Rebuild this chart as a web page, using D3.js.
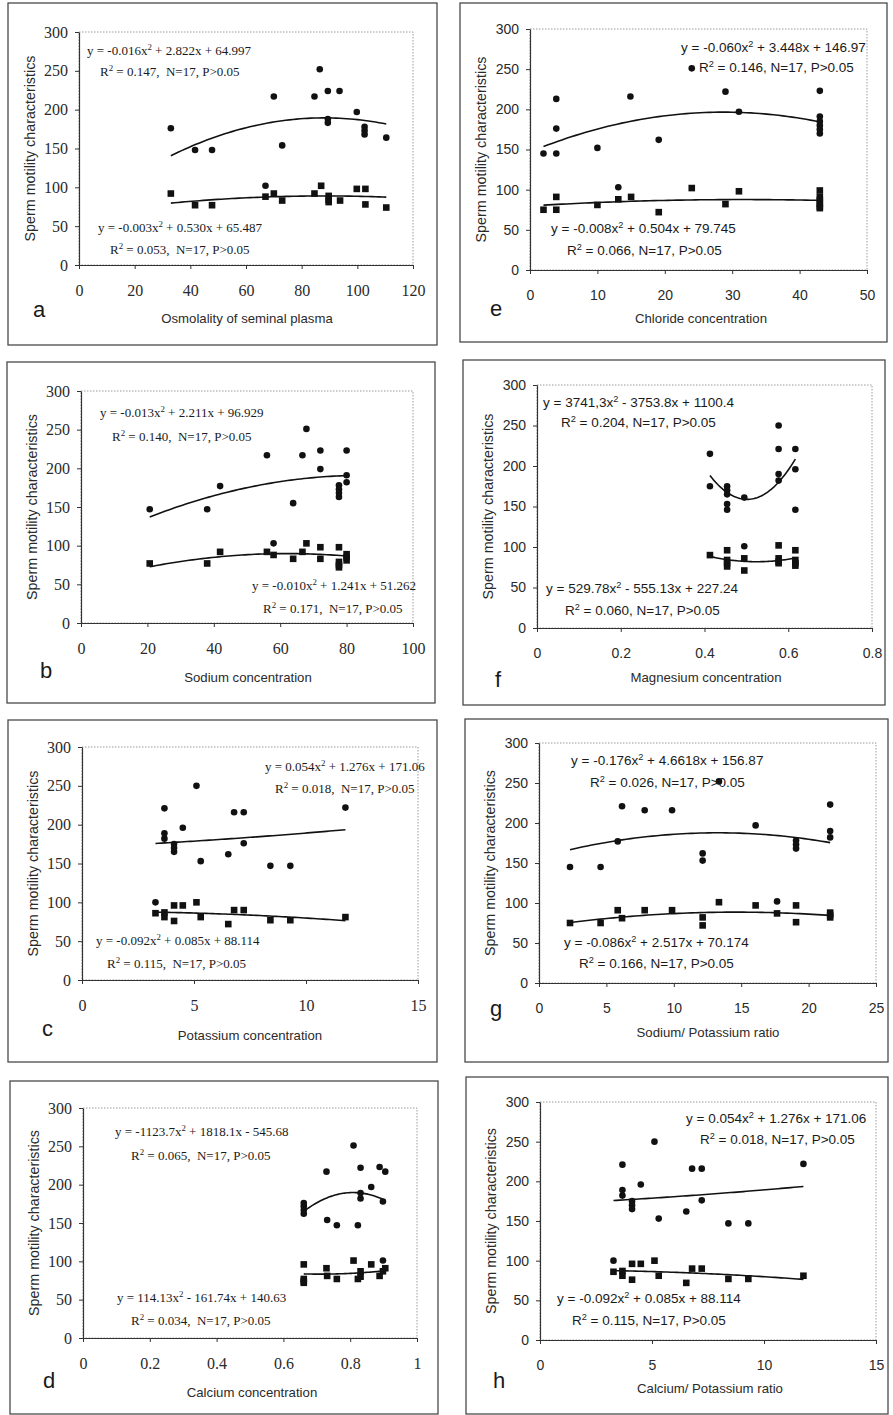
<!DOCTYPE html>
<html>
<head>
<meta charset="utf-8">
<script src="https://cdn.jsdelivr.net/npm/d3@7"></script>
<style>
    body { margin: 0; background: #fff; }
    svg { display: block; }
</style>
</head>
<body>
<svg id="chart"></svg>
<script>

// same y axis in every panel
const yTicks = [0, 50, 100, 150, 200, 250, 300];
const yTitle = "Sperm motility characteristics";

// a - osmolality
const osmoTicks = [0, 20, 40, 60, 80, 100, 120];
const osmoCircles = [[33, 176], [41.7, 148], [47.8, 148], [67, 102], [70, 217], [73, 154], [84.6, 217], [86.5, 252], [89.4, 224], [89.4, 188], [89.4, 183], [93.6, 224], [99.8, 197], [102.6, 178], [102.6, 173], [102.6, 168], [110.4, 164]];
const osmoSquares = [[33, 92], [41.7, 77], [47.8, 77], [67, 88], [70, 92], [73, 83], [84.6, 92], [87, 102], [89.7, 89], [89.7, 84], [89.7, 81], [93.8, 83], [99.8, 98], [102.9, 98], [102.9, 78], [110.4, 74]];
const osmoFits = [[-0.016, 2.822, 64.997], [-0.003, 0.530, 65.487]];
const osmoText = ["y = -0.016x^2 + 2.822x + 64.997", "R^2 = 0.147,  N=17, P>0.05", "y = -0.003x^2 + 0.530x + 65.487", "R^2 = 0.053,  N=17, P>0.05"];

// e - chloride
const chlorTicks = [0, 10, 20, 30, 40, 50];
const chlorCircles = [[2, 145], [3.9, 213], [3.9, 176], [3.9, 145], [10, 152], [13.1, 103], [14.9, 216], [19.1, 162], [24, 251], [29, 222], [31, 197], [43, 223], [43, 191], [43, 185], [43, 180], [43, 175], [43, 170]];
const chlorSquares = [[2, 75], [3.9, 91], [3.9, 75], [10, 81], [13.1, 88], [15, 91], [19.1, 72], [24, 102], [29, 82], [31, 98], [43, 99], [43, 91], [43, 87], [43, 83], [43, 79], [43, 77]];
const chlorFits = [[-0.060, 3.448, 146.97], [-0.008, 0.504, 79.745]];
const chlorText = ["y = -0.060x^2 + 3.448x + 146.97", "R^2 = 0.146, N=17, P>0.05", "y = -0.008x^2 + 0.504x + 79.745", "R^2 = 0.066, N=17, P>0.05"];

// b - sodium
const sodTicks = [0, 20, 40, 60, 80, 100];
const sodCircles = [[20.7, 147], [38, 147], [41.9, 177], [56, 217], [58, 103], [63.9, 155], [66.7, 217], [67.9, 251], [72.1, 223], [72.1, 199], [77.7, 178], [77.7, 173], [77.7, 168], [77.7, 163], [80, 223], [80, 191], [80, 182]];
const sodSquares = [[20.7, 77], [38, 77], [41.9, 92], [56, 92], [58, 88], [63.9, 83], [66.7, 92], [67.9, 103], [72.1, 98], [72.1, 83], [77.7, 98], [77.7, 79], [77.7, 75], [77.7, 72], [80, 89], [80, 85], [80, 81]];
const sodFits = [[-0.013, 2.211, 96.929], [-0.010, 1.241, 51.262]];
const sodText = ["y = -0.013x^2 + 2.211x + 96.929", "R^2 = 0.140,  N=17, P>0.05", "y = -0.010x^2 + 1.241x + 51.262", "R^2 = 0.171,  N=17, P>0.05"];

// f - magnesium
const magTicks = [0, 0.2, 0.4, 0.6, 0.8];
const magCircles = [[0.413, 215], [0.413, 175], [0.454, 175], [0.454, 170], [0.454, 165], [0.454, 153], [0.454, 146], [0.495, 161], [0.495, 101], [0.577, 250], [0.577, 221], [0.577, 190], [0.577, 182], [0.617, 221], [0.617, 196], [0.617, 146]];
const magSquares = [[0.413, 90], [0.454, 96], [0.454, 84], [0.454, 80], [0.454, 76], [0.495, 86], [0.495, 71], [0.577, 102], [0.577, 86], [0.577, 82], [0.577, 80], [0.617, 96], [0.617, 84], [0.617, 80], [0.617, 77]];
const magFits = [[3741.3, -3753.8, 1100.4], [529.78, -555.13, 227.24]];
const magText = ["y = 3741,3x^2 - 3753.8x + 1100.4", "R^2 = 0.204, N=17, P>0.05", "y = 529.78x^2 - 555.13x + 227.24", "R^2 = 0.060, N=17, P>0.05"];

// c - potassium (h repeats the same points)
const potTicks = [0, 5, 10, 15];
const potCircles = [[3.28, 100], [3.68, 221], [3.68, 189], [3.68, 182], [4.11, 175], [4.11, 170], [4.11, 165], [4.5, 196], [5.11, 250], [5.3, 153], [6.53, 162], [6.79, 216], [7.22, 216], [7.22, 176], [8.41, 147], [9.3, 147], [11.76, 222]];
const potSquares = [[3.28, 86], [3.68, 87], [3.68, 81], [4.11, 96], [4.11, 76], [4.5, 96], [5.11, 100], [5.3, 81], [6.53, 72], [6.79, 90], [7.22, 90], [8.41, 77], [9.3, 77], [11.76, 81]];
const potFits = [[0.054, 1.276, 171.06], [-0.092, 0.085, 88.114]];
const potText = ["y = 0.054x^2 + 1.276x + 171.06", "R^2 = 0.018,  N=17, P>0.05", "y = -0.092x^2 + 0.085x + 88.114", "R^2 = 0.115,  N=17, P>0.05"];

// g - sodium / potassium
const naKTicks = [0, 5, 10, 15, 20, 25];
const naKCircles = [[2.3, 145], [4.57, 145], [5.84, 177], [6.16, 221], [7.84, 216], [9.87, 216], [12.14, 162], [12.14, 153], [13.35, 252], [16.07, 197], [17.66, 102], [19.07, 178], [19.07, 173], [19.07, 168], [21.6, 223], [21.6, 190], [21.6, 182]];
const naKSquares = [[2.3, 75], [4.57, 75], [5.84, 91], [6.16, 81], [7.84, 91], [9.87, 91], [12.14, 82], [12.14, 72], [13.35, 101], [16.07, 97], [17.66, 87], [19.07, 97], [19.07, 76], [21.6, 88], [21.6, 85], [21.6, 82]];
const naKFits = [[-0.176, 4.6618, 156.87], [-0.086, 2.517, 70.174]];
const naKText = ["y = -0.176x^2 + 4.6618x + 156.87", "R^2 = 0.026, N=17, P>0.05", "y = -0.086x^2 + 2.517x + 70.174", "R^2 = 0.166, N=17, P>0.05"];

// d - calcium
const calTicks = [0, 0.2, 0.4, 0.6, 0.8, 1];
const calCircles = [[0.661, 176], [0.661, 172], [0.661, 167], [0.661, 162], [0.729, 217], [0.731, 154], [0.76, 147], [0.81, 251], [0.823, 147], [0.831, 222], [0.831, 189], [0.831, 182], [0.863, 197], [0.888, 223], [0.905, 217], [0.898, 178], [0.898, 101]];
const calSquares = [[0.661, 96], [0.661, 77], [0.661, 74], [0.661, 72], [0.729, 91], [0.731, 81], [0.76, 77], [0.81, 101], [0.823, 77], [0.831, 87], [0.831, 80], [0.863, 96], [0.888, 81], [0.905, 91], [0.898, 87]];
const calFits = [[-1123.7, 1818.1, -545.68], [114.13, -161.74, 140.63]];
const calText = ["y = -1123.7x^2 + 1818.1x - 545.68", "R^2 = 0.065,  N=17, P>0.05", "y = 114.13x^2 - 161.74x + 140.63", "R^2 = 0.034,  N=17, P>0.05"];

// h - calcium / potassium
const caKText = ["y = 0.054x^2 + 1.276x + 171.06", "R^2 = 0.018, N=17, P>0.05", "y = -0.092x^2 + 0.085x + 88.114", "R^2 = 0.115, N=17, P>0.05"];


const SERIF = "'Liberation Serif', 'Times New Roman', serif";
const SANS = "'Liberation Sans', Arial, sans-serif";

// layout: frame + plot area in page pixels, text anchors
let panels = [
    { label: "a", xTitle: "Osmolality of seminal plasma", xTicks: osmoTicks, circles: osmoCircles, squares: osmoSquares, fits: osmoFits, text: osmoText, serif: true,
      frame: [8, 3, 437, 345], plot: [79, 32, 413, 265], labelPos: [33, 317], titlePos: [247, 323], textPos: [[87, 55], [100, 76], [98, 232], [110, 254]] },
    { label: "e", xTitle: "Chloride concentration", xTicks: chlorTicks, circles: chlorCircles, squares: chlorSquares, fits: chlorFits, text: chlorText, serif: false,
      frame: [460, 3, 887, 342], plot: [530, 29, 867, 270], labelPos: [490, 316], titlePos: [701, 323], textPos: [[681, 52], [699, 72], [551, 233], [567, 255]] },
    { label: "b", xTitle: "Sodium concentration", xTicks: sodTicks, circles: sodCircles, squares: sodSquares, fits: sodFits, text: sodText, serif: true,
      frame: [7, 362, 435, 703], plot: [81, 391, 413, 623], labelPos: [40, 678], titlePos: [248, 682], textPos: [[100, 417], [112, 441], [252, 590], [263, 613]] },
    { label: "f", xTitle: "Magnesium concentration", xTicks: magTicks, circles: magCircles, squares: magSquares, fits: magFits, text: magText, serif: false,
      frame: [463, 360, 885, 705], plot: [537, 385, 872, 628], labelPos: [495, 687], titlePos: [706, 682], textPos: [[543, 407], [561, 427], [546, 593], [565, 615]] },
    { label: "c", xTitle: "Potassium concentration", xTicks: potTicks, circles: potCircles, squares: potSquares, fits: potFits, text: potText, serif: true,
      frame: [8, 720, 437, 1062], plot: [82, 747, 418, 980], labelPos: [42, 1036], titlePos: [250, 1040], textPos: [[265, 771], [275, 793], [96, 945], [107, 968]] },
    { label: "g", xTitle: "Sodium/ Potassium ratio", xTicks: naKTicks, circles: naKCircles, squares: naKSquares, fits: naKFits, text: naKText, serif: false,
      frame: [465, 719, 888, 1062], plot: [539, 743, 876, 983], labelPos: [490, 1016], titlePos: [708, 1037], textPos: [[571, 765], [590, 787], [564, 947], [579, 968]] },
    { label: "d", xTitle: "Calcium concentration", xTicks: calTicks, circles: calCircles, squares: calSquares, fits: calFits, text: calText, serif: true,
      frame: [10, 1081, 438, 1414], plot: [83, 1108, 417, 1338], labelPos: [43, 1388], titlePos: [252, 1397], textPos: [[115, 1136], [131, 1160], [117, 1302], [131, 1325]] },
    { label: "h", xTitle: "Calcium/ Potassium ratio", xTicks: potTicks, circles: potCircles, squares: potSquares, fits: potFits, text: caKText, serif: false,
      frame: [466, 1077, 888, 1414], plot: [540, 1102, 876, 1340], labelPos: [493, 1388], titlePos: [710, 1393], textPos: [[686, 1123], [700, 1144], [557, 1303], [572, 1325]] }
];


let svg = d3.select("#chart")
    .attr("width", 893)
    .attr("height", 1415);

svg.append("rect")
    .attr("width", 893)
    .attr("height", 1415)
    .attr("fill", "#fff");


// writes "x^2" style strings with a raised small 2
function writeEquation(g, str, pos, font, size) {
    let text = g.append("text")
        .attr("x", pos[0])
        .attr("y", pos[1])
        .style("font-family", font)
        .style("font-size", size + "px")
        .style("fill", "#1a1a1a")
        .attr("xml:space", "preserve");

    let parts = str.split("^2");
    parts.forEach((part, i) => {
        if (i > 0) {
            text.append("tspan")
                .attr("dy", -size * 0.4)
                .style("font-size", (size * 0.68) + "px")
                .text("2");
            text.append("tspan")
                .attr("dy", size * 0.4)
                .text(part);
        } else {
            text.append("tspan").text(part);
        }
    });
}


function drawPanel(p) {

    let g = svg.append("g").attr("class", "panel-" + p.label);
    let font = p.serif ? SERIF : SANS;
    let tickSize = p.serif ? 16 : 14;
    let eqSize = p.serif ? 13 : 13.5;

    let [fx0, fy0, fx1, fy1] = p.frame;
    let [px0, py0, px1, py1] = p.plot;

    // PANEL FRAME
    g.append("rect")
        .attr("x", fx0)
        .attr("y", fy0)
        .attr("width", fx1 - fx0)
        .attr("height", fy1 - fy0)
        .attr("fill", "none")
        .attr("stroke", "#4a4a4a")
        .attr("stroke-width", 1.3);

    let x = d3.scaleLinear()
        .domain([p.xTicks[0], p.xTicks[p.xTicks.length - 1]])
        .range([px0, px1]);

    let y = d3.scaleLinear()
        .domain([yTicks[0], yTicks[yTicks.length - 1]])
        .range([py1, py0]);

    // plot area border, excel style dotted grey
    g.append("rect")
        .attr("x", px0)
        .attr("y", py0)
        .attr("width", px1 - px0)
        .attr("height", py1 - py0)
        .attr("fill", "none")
        .attr("stroke", "#9a9a9a")
        .attr("stroke-dasharray", "1.5,1.5");

    // AXES
    let xAxis = g.append("g")
        .attr("transform", `translate(0,${py1})`)
        .call(d3.axisBottom(x)
            .tickValues(p.xTicks)
            .tickFormat(d => String(d))
            .tickSize(4)
            .tickSizeOuter(0)
            .tickPadding(p.serif ? 16 : 16));

    let yAxis = g.append("g")
        .attr("transform", `translate(${px0},0)`)
        .call(d3.axisLeft(y)
            .tickValues(yTicks)
            .tickSize(4)
            .tickSizeOuter(0)
            .tickPadding(7));

    for (let axis of [xAxis, yAxis]) {
        axis.select(".domain").attr("stroke", "#333").attr("stroke-width", 1.2);
        axis.selectAll(".tick line").attr("stroke", "#333");
        axis.selectAll(".tick text")
            .style("font-family", font)
            .style("font-size", tickSize + "px")
            .style("fill", "#2a2a2a");
    }

    // TREND LINES from the printed coefficients
    let line = d3.line()
        .x(d => x(d[0]))
        .y(d => y(d[1]));

    [p.circles, p.squares].forEach((series, i) => {
        let [a, b, c] = p.fits[i];
        let [lo, hi] = d3.extent(series, d => d[0]);
        let pts = d3.range(61).map(k => {
            let xv = lo + (hi - lo) * k / 60;
            return [xv, a * xv * xv + b * xv + c];
        });
        g.append("path")
            .datum(pts)
            .attr("d", line)
            .attr("fill", "none")
            .attr("stroke", "#111")
            .attr("stroke-width", 1.6);
    });

    // MARKERS
    g.selectAll(".dot")
        .data(p.circles)
        .enter()
        .append("circle")
        .attr("class", "dot")
        .attr("cx", d => x(d[0]))
        .attr("cy", d => y(d[1]))
        .attr("r", 3.3)
        .attr("fill", "#111");

    g.selectAll(".sq")
        .data(p.squares)
        .enter()
        .append("rect")
        .attr("class", "sq")
        .attr("x", d => x(d[0]) - 3.3)
        .attr("y", d => y(d[1]) - 3.3)
        .attr("width", 6.6)
        .attr("height", 6.6)
        .attr("fill", "#111");

    // EQUATIONS
    p.text.forEach((str, i) => writeEquation(g, str, p.textPos[i], font, eqSize));

    // TITLES
    g.append("text")
        .attr("x", p.titlePos[0])
        .attr("y", p.titlePos[1])
        .attr("text-anchor", "middle")
        .text(p.xTitle)
        .style("font-family", SANS)
        .style("font-size", "13.2px")
        .style("fill", "#2a2a2a");

    g.append("text")
        .attr("transform", `translate(${px0 - 44},${(py0 + py1) / 2}) rotate(-90)`)
        .attr("text-anchor", "middle")
        .text(yTitle)
        .style("font-family", SANS)
        .style("font-size", "14.3px")
        .style("fill", "#2a2a2a");

    g.append("text")
        .attr("x", p.labelPos[0])
        .attr("y", p.labelPos[1])
        .text(p.label)
        .style("font-family", SANS)
        .style("font-size", "22px")
        .style("fill", "#1a1a1a");
}

for (let p of panels) {
    drawPanel(p);
}

</script>
</body>
</html>
